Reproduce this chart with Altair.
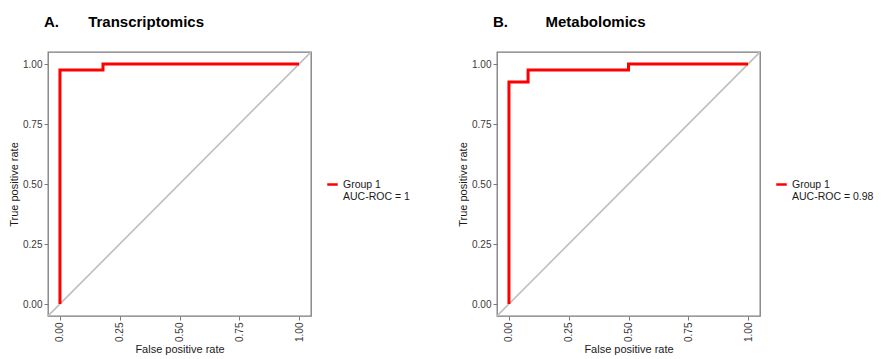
import altair as alt
import pandas as pd

# ROC curve coordinates (false positive rate, true positive rate)
fpr_a = [0.0, 0.0, 0.18, 0.18, 1.0]
tpr_a = [0.0, 0.975, 0.975, 1.0, 1.0]
fpr_b = [0.0, 0.0, 0.08, 0.08, 0.5, 0.5, 1.0]
tpr_b = [0.0, 0.925, 0.925, 0.975, 0.975, 1.0, 1.0]

# chance line spans the whole expanded panel
ref_line = [-0.05, 1.05]
tick_values = [0.0, 0.25, 0.5, 0.75, 1.0]

group_name = "Group 1"
auc_a = "1"
auc_b = "0.98"

FONT = "Liberation Sans"
NBSP = "\u00a0"


def roc_panel(fpr, tpr, label, name, gap, auc):
    roc = pd.DataFrame({"fpr": fpr, "tpr": tpr, "step": list(range(len(fpr))),
                        "group": group_name})
    diag = pd.DataFrame({"fpr": ref_line, "tpr": ref_line})

    scale = alt.Scale(domain=[-0.05, 1.05], nice=False, zero=False)
    x = alt.X("fpr:Q", scale=scale,
              axis=alt.Axis(values=tick_values, format=".2f", labelAngle=270,
                            labelAlign="right", labelBaseline="middle",
                            title="False positive rate", titlePadding=2))
    y = alt.Y("tpr:Q", scale=scale,
              axis=alt.Axis(values=tick_values, format=".2f",
                            title="True positive rate", titlePadding=3))

    chance = alt.Chart(diag).mark_line(color="#BEBEBE", strokeWidth=1.6, clip=True).encode(
        x=x, y=y)

    curve = alt.Chart(roc).mark_line(strokeWidth=3, strokeJoin="miter", strokeCap="butt").encode(
        x=x, y=y, order="step:Q",
        color=alt.Color("group:N",
                        scale=alt.Scale(domain=[group_name], range=["#FF0000"]),
                        legend=alt.Legend(
                            title=None, orient="none", legendX=278, legendY=126,
                            symbolType="stroke", symbolStrokeWidth=2.5, symbolSize=110,
                            labelFontSize=10.5, labelFont=FONT, labelColor="#1a1a1a",
                            labelExpr=f"['{group_name}', '{NBSP}AUC-ROC = {auc}']",
                            labelLimit=300)))

    return alt.layer(chance, curve).properties(
        width=263, height=264,
        title=alt.TitleParams(label + NBSP * gap + name, anchor="start", frame="group",
                              dx=-4, offset=22, fontSize=15, font=FONT,
                              fontWeight="bold", color="#000000"))


panel_a = roc_panel(fpr_a, tpr_a, "A.", "Transcriptomics", 7, auc_a)
panel_b = roc_panel(fpr_b, tpr_b, "B.", "Metabolomics", 9, auc_b)

chart = alt.hconcat(panel_a, panel_b, spacing=45).resolve_scale(
    color="independent").resolve_legend(color="independent").properties(
    padding={"left": 7, "top": 14, "right": 0, "bottom": 0}
).configure_view(
    stroke="#7a7a7a", strokeWidth=1.3
).configure_axis(
    domain=False, grid=False, tickColor="#7a7a7a", tickSize=4, tickWidth=1,
    labelColor="#3a3a3a", labelFontSize=10, labelFont=FONT, labelPadding=2,
    titleFont=FONT, titleFontSize=11, titleFontWeight="normal", titleColor="#1a1a1a"
)

chart.save("out.html", embed_options={"renderer": "svg", "actions": False})
